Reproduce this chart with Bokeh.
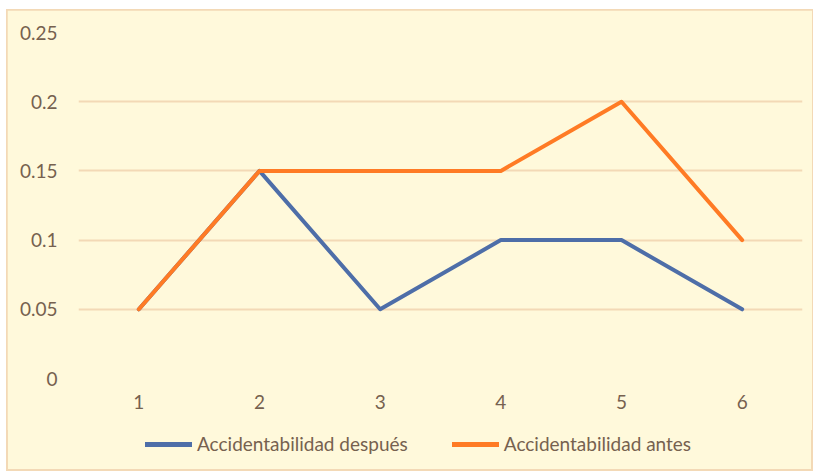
from bokeh.plotting import figure
from bokeh.layouts import column
from bokeh.models import ColumnDataSource, Legend, LegendItem, FixedTicker, Range1d
from bokeh.embed import file_html
from bokeh.resources import INLINE

x = [1, 2, 3, 4, 5, 6]
despues = [0.05, 0.15, 0.05, 0.10, 0.10, 0.05]
antes = [0.05, 0.15, 0.15, 0.15, 0.20, 0.10]
y_ticks = [0, 0.05, 0.1, 0.15, 0.2, 0.25]
y_labels = {0: "0", 0.05: "0.05", 0.1: "0.1", 0.15: "0.15", 0.2: "0.2", 0.25: "0.25"}
series_names = ["Accidentabilidad después", "Accidentabilidad antes"]

BG = "#FFF9DB"
GRID = "#F3D9B6"
TXT = "#76614F"
BLUE = "#4E6EA8"
ORANGE = "#FF7B25"
FONT = "Lato"
FS = "19px"

p = figure(width=805, height=420, output_backend="svg", toolbar_location=None,
           x_range=Range1d(0.5, 6.5), y_range=Range1d(0, 0.25),
           min_border_left=71, min_border_right=10, min_border_top=22, min_border_bottom=52)
p.background_fill_color = BG
p.border_fill_color = BG
p.outline_line_color = None

src = ColumnDataSource(dict(x=x, despues=despues, antes=antes))
r1 = p.line("x", "despues", source=src, line_color=BLUE, line_width=4, line_join="round", line_cap="round")
r2 = p.line("x", "antes", source=src, line_color=ORANGE, line_width=4, line_join="round", line_cap="round")

p.xgrid.grid_line_color = None
p.ygrid.grid_line_color = GRID
p.ygrid.grid_line_width = 2
p.ygrid.ticker = FixedTicker(ticks=y_ticks)

p.yaxis.ticker = FixedTicker(ticks=y_ticks)
p.yaxis.major_label_overrides = {k: v for k, v in y_labels.items()}
p.xaxis.ticker = FixedTicker(ticks=x)
for ax in (p.xaxis[0], p.yaxis[0]):
    ax.axis_line_color = None
    ax.major_tick_line_color = None
    ax.minor_tick_line_color = None
    ax.major_label_text_color = TXT
    ax.major_label_text_font = FONT
    ax.major_label_text_font_size = FS
p.yaxis.major_label_standoff = 15
p.xaxis.major_label_standoff = 10

# legend strip: same series drawn outside its visible y range, only the legend shows
p2 = figure(width=805, height=40, output_backend="svg", toolbar_location=None,
            x_range=Range1d(0.5, 6.5), y_range=Range1d(1, 2),
            min_border_left=0, min_border_right=0, min_border_top=0, min_border_bottom=0)
p2.background_fill_color = BG
p2.background_fill_alpha = 0
p2.border_fill_color = BG
p2.border_fill_alpha = 0
p2.outline_line_color = None
p2.axis.visible = False
p2.grid.grid_line_color = None
l1 = p2.line("x", "despues", source=src, line_color=BLUE, line_width=5, line_cap="round")
l2 = p2.line("x", "antes", source=src, line_color=ORANGE, line_width=5, line_cap="round")

legend = Legend(items=[LegendItem(label=series_names[0], renderers=[l1]),
                       LegendItem(label=series_names[1], renderers=[l2])],
                orientation="horizontal", location=(67, 15))
legend.label_text_font = FONT
legend.label_text_font_size = FS
legend.label_text_color = TXT
legend.glyph_width = 47
legend.glyph_height = 20
legend.label_height = 20
legend.label_standoff = 5
legend.spacing = 44
legend.padding = 0
legend.margin = 0
legend.border_line_color = None
legend.background_fill_alpha = 0
p2.add_layout(legend)

layout = column(p, p2, spacing=0, margin=(10, 0, 0, 7))
layout.styles = {"outline": "2px solid " + GRID, "outline-offset": "-1px", "background-color": BG}

open("out.html", "w").write(file_html(layout, INLINE))
